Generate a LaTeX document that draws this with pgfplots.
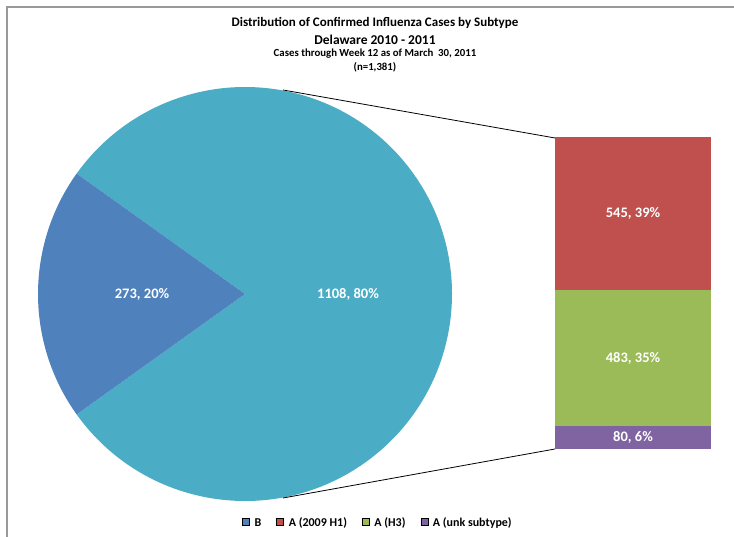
\documentclass[border=0pt]{standalone}
\usepackage{fontspec}
\setmainfont{Carlito}
\usepackage{pgfplots}
\usepackage{pgfplotstable}
\pgfplotsset{compat=1.18}

\definecolor{fluB}{HTML}{4F81BD}
\definecolor{fluA}{HTML}{4BACC6}
\definecolor{fluH1}{HTML}{C0504D}
\definecolor{fluH3}{HTML}{9BBB59}
\definecolor{fluUnk}{HTML}{8064A2}

% pie: B against all type A
\pgfplotstableread{
type cases
B    273
A    1108
}\piedata
% breakdown of type A
\pgfplotstableread{
x h1  h3  unk
0 545 483 80
}\bardata

\begin{document}
\begin{tikzpicture}
\pgfplotstablegetelem{0}{cases}\of\piedata \let\nB\pgfplotsretval
\pgfplotstablegetelem{1}{cases}\of\piedata \let\nA\pgfplotsretval
\pgfmathsetmacro\halfB{180/(\nB+\nA)*\nB}
\pgfmathsetmacro\angS{180-\halfB}
\pgfmathsetmacro\angE{180+\halfB}
\pgfmathsetmacro\angW{540-\halfB}
\useasboundingbox (0,0) rectangle (734pt,537pt);
\begin{axis}[
    name=main,
    at={(0,0)}, anchor=south west,
    scale only axis,
    width=734pt, height=537pt,
    xmin=0, xmax=734, ymin=0, ymax=537,
    hide axis, xtick=\empty, ytick=\empty,
    clip=false,
    legend columns=4,
    legend style={at={(axis cs:378,14)}, anchor=center, draw=none,
        font=\bfseries\fontsize{12}{14}\selectfont,
        column sep=13pt, inner sep=1pt,
        /tikz/every odd column/.style={column sep=3pt}},
    legend image code/.code={\fill[#1] (0pt,-2pt) rectangle (7pt,5pt);},
]
    % frame
    \draw[gray!80, line width=1.2pt] (axis cs:7,0) -- (axis cs:7,530) -- (axis cs:734,530);
    % pie slices
    \fill[fluA] (axis cs:245,243) -- ++(\angE:207pt)
        arc[start angle=\angE, end angle=\angW, radius=207pt] -- cycle;
    \fill[fluB] (axis cs:245,243) -- ++(\angS:207pt)
        arc[start angle=\angS, end angle=\angE, radius=207pt] -- cycle;
    % connector lines
    \draw[black, line width=0.8pt] (axis cs:283,447) -- (axis cs:555,399);
    \draw[black, line width=0.8pt] (axis cs:283,39) -- (axis cs:555,88);
    % pie labels
    \node[white, font=\bfseries\fontsize{14.5}{17}\selectfont] at (axis cs:142,243) {273, 20\%};
    \node[white, font=\bfseries\fontsize{14.5}{17}\selectfont] at (axis cs:348,243) {1108, 80\%};
    % titles
    \node[font=\bfseries\fontsize{13}{15}\selectfont] at (axis cs:375,514) {Distribution of Confirmed Influenza Cases by Subtype};
    \node[font=\bfseries\fontsize{13.5}{15}\selectfont] at (axis cs:375,497) {Delaware 2010 - 2011};
    \node[font=\bfseries\fontsize{10.8}{12}\selectfont] at (axis cs:375,483) {Cases through Week 12 as of March\ \ 30, 2011};
    \node[font=\bfseries\fontsize{10.8}{12}\selectfont] at (axis cs:375,470) {(n=1,381)};
    % legend
    \addlegendimage{fill=fluB}
    \addlegendentry{B}
    \addlegendimage{fill=fluH1}
    \addlegendentry{A (2009 H1)}
    \addlegendimage{fill=fluH3}
    \addlegendentry{A (H3)}
    \addlegendimage{fill=fluUnk}
    \addlegendentry{A (unk subtype)}
\end{axis}
\begin{axis}[
    at={(555pt,88pt)}, anchor=south west,
    scale only axis,
    width=156pt, height=312pt,
    xmin=-0.5, xmax=0.5, ymin=0, ymax=1108,
    hide axis, xtick=\empty, ytick=\empty,
    clip=false,
    ybar stacked,
    bar width=156pt,
]
    \addplot[fill=fluUnk, draw=none] table[x=x, y=unk] {\bardata};
    \addplot[fill=fluH3, draw=none] table[x=x, y=h3] {\bardata};
    \addplot[fill=fluH1, draw=none] table[x=x, y=h1] {\bardata};
    \coordinate (lu) at (axis cs:0,40);
    \coordinate (l3) at (axis cs:0,321.5);
    \coordinate (l1) at (axis cs:0,835.5);
\end{axis}
\node[white, font=\bfseries\fontsize{14.5}{17}\selectfont] at (lu) {80, 6\%};
\node[white, font=\bfseries\fontsize{14.5}{17}\selectfont] at (l3) {483, 35\%};
\node[white, font=\bfseries\fontsize{14.5}{17}\selectfont] at (l1) {545, 39\%};
\end{tikzpicture}
\end{document}
